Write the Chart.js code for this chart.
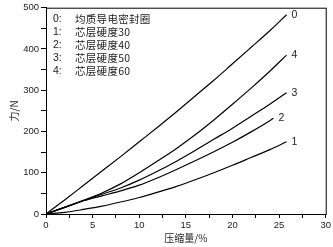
<!DOCTYPE html>
<html>
<head>
<meta charset="utf-8">
<script src="https://cdn.jsdelivr.net/npm/chart.js@4"></script>
<style>
	body { margin: 0; background: #fff; }
	#wrap { width: 333px; height: 247px; }
</style>
</head>
<body>
<div id="wrap"><canvas id="forceChart"></canvas></div>
<script>
// data block: compression (%) and force (N)
const strain = [0, 2, 4, 6, 8, 10, 12, 14, 16, 18, 20, 22, 24, 25.8];
const strain2 = [0, 2, 4, 6, 8, 10, 12, 14, 16, 18, 20, 22, 24, 24.4];
const force0 = [0, 34, 69, 104, 139, 175, 211, 248, 286, 324, 364, 404, 444, 483];
const force1 = [0, 4, 11, 19, 29, 40, 53, 67, 83, 100, 118, 137, 156, 175];
const force2 = [0, 16, 32, 44, 56, 70, 88, 108, 129, 151, 174, 199, 226, 232];
const force3 = [0, 16, 32, 48, 63, 82, 104, 128, 154, 181, 208, 237, 266, 294];
const force4 = [0, 16, 33, 51, 73, 100, 129, 159, 192, 228, 266, 305, 346, 385];
const curveNames = ['0', '1', '2', '3', '4'];
const legendKeys = ['0:', '1:', '2:', '3:', '4:'];
const legendTexts = ['均质导电密封圈', '芯层硬度30', '芯层硬度40', '芯层硬度50', '芯层硬度60'];
const xTitle = '压缩量/%';
const yTitle = '力/N';

const cjk = '"Noto Sans CJK SC", "Liberation Sans", sans-serif';
const latin = '"Liberation Sans", Arial, sans-serif';

function toPoints(xs, ys) {
	return xs.map((x, i) => ({ x: x, y: ys[i] }));
}

function makeSet(name, xs, ys) {
	return {
		label: name,
		data: toPoints(xs, ys),
		borderColor: '#000',
		borderWidth: 1.2,
		pointRadius: 0,
		fill: false,
		cubicInterpolationMode: 'monotone',
	};
}

const data = {
	datasets: [
		makeSet(curveNames[0], strain, force0),
		makeSet(curveNames[1], strain, force1),
		makeSet(curveNames[2], strain2, force2),
		makeSet(curveNames[3], strain, force3),
		makeSet(curveNames[4], strain, force4),
	],
};

// box round the plot, text legend, and numbers at the curve ends
const decorPlugin = {
	id: 'decor',
	afterDraw(chart) {
		const ctx = chart.ctx;
		const a = chart.chartArea;
		ctx.save();
		ctx.strokeStyle = '#000';
		ctx.lineWidth = 1;
		ctx.strokeRect(a.left + 0.5, a.top + 0.5, a.right - a.left, a.bottom - a.top);

		ctx.fillStyle = '#222';
		ctx.textBaseline = 'middle';
		ctx.textAlign = 'left';
		legendKeys.forEach((k, i) => {
			const y = a.top + 11 + i * 13;
			ctx.font = '10.5px ' + latin;
			ctx.fillText(k, a.left + 7, y);
			ctx.font = '10.5px ' + cjk;
			ctx.letterSpacing = '0.3px';
			ctx.fillText(legendTexts[i], a.left + 29, y);
			ctx.letterSpacing = '0px';
		});

		ctx.font = '10.5px ' + latin;
		chart.data.datasets.forEach((ds, i) => {
			const meta = chart.getDatasetMeta(i);
			const last = meta.data[meta.data.length - 1];
			ctx.fillText(ds.label, last.x + 5, last.y);
		});
		ctx.restore();
	},
};

const config = {
	type: 'line',
	data,
	options: {
		responsive: true,
		maintainAspectRatio: false,
		animation: false,
		layout: { padding: { top: 6, right: 7, left: 4, bottom: 0 } },
		plugins: {
			legend: { display: false },
			tooltip: { enabled: false },
		},
		scales: {
			x: {
				type: 'linear',
				min: 0,
				max: 30,
				border: { color: '#000', width: 1 },
				grid: { drawOnChartArea: false, color: '#000', tickLength: 4 },
				ticks: {
					stepSize: 2.5,
					autoSkip: false,
					maxRotation: 0,
					padding: 2,
					color: '#222',
					font: { family: latin, size: 9.5 },
					callback: (v) => (v % 5 === 0 ? v : ''),
				},
				title: {
					display: true,
					text: xTitle,
					color: '#222',
					font: { family: cjk, size: 10 },
					padding: { top: 0, bottom: 3 },
				},
				afterFit: (s) => { s.height = 33; },
			},
			y: {
				min: 0,
				max: 500,
				border: { color: '#000', width: 1 },
				grid: { drawOnChartArea: false, color: '#000', tickLength: 5 },
				ticks: {
					stepSize: 50,
					autoSkip: false,
					padding: 2,
					color: '#222',
					font: { family: latin, size: 9.5 },
					callback: (v) => (v % 100 === 0 ? v : ''),
				},
				title: {
					display: true,
					text: yTitle,
					color: '#222',
					font: { family: cjk, size: 10 },
					padding: { top: 4, bottom: 0 },
				},
				afterFit: (s) => { s.width = 42; },
			},
		},
	},
	plugins: [decorPlugin],
};

const forceChart = new Chart(document.getElementById('forceChart'), config);
</script>
</body>
</html>
